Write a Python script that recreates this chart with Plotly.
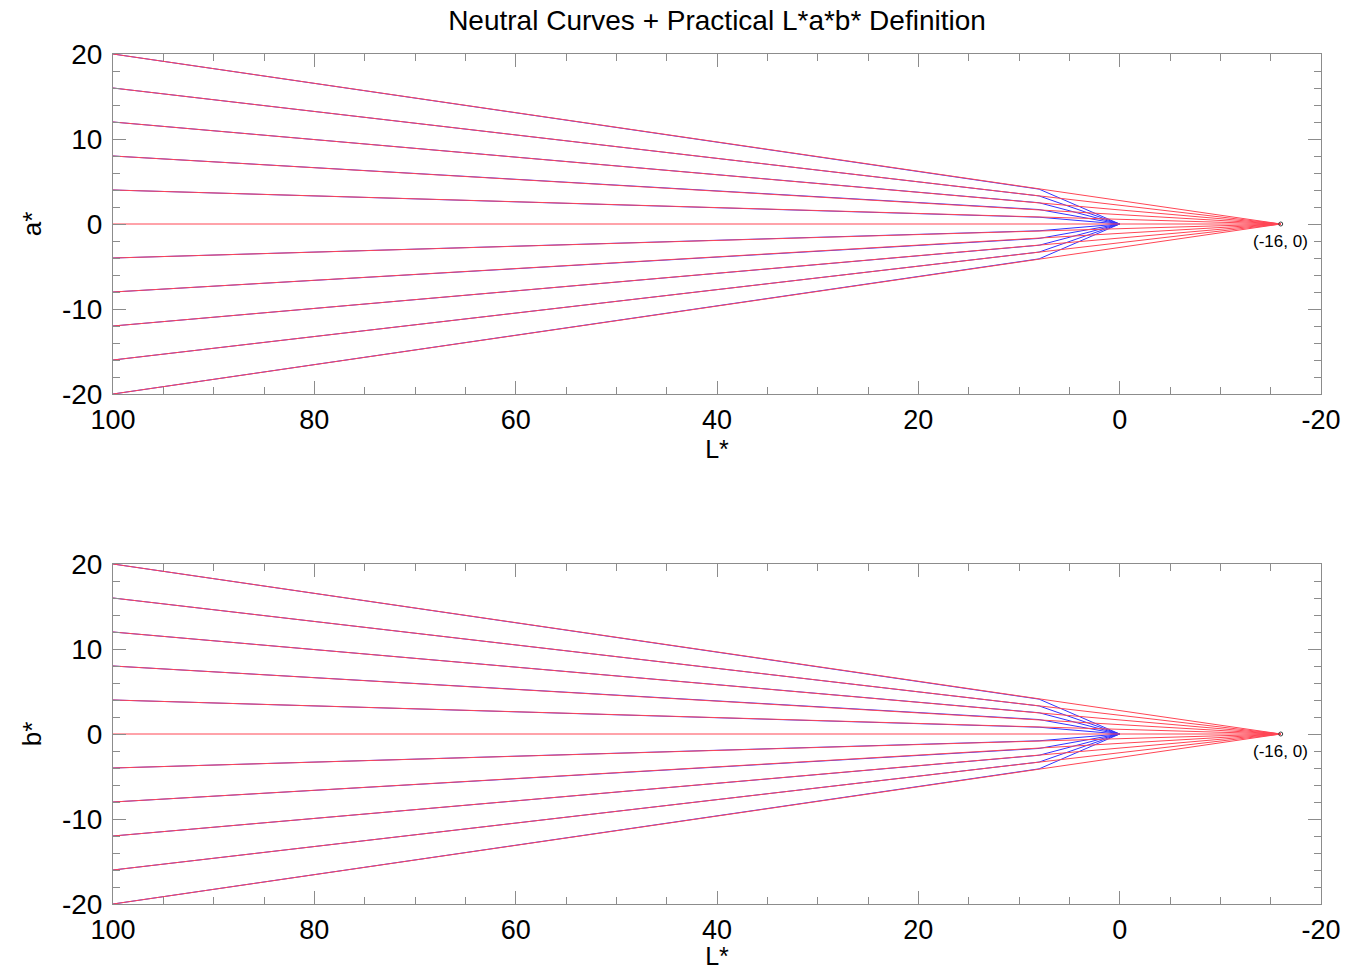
import plotly.graph_objects as go

# ---- data ----
start_L = 100
start_vals = [20, 16, 12, 8, 4, 0, -4, -8, -12, -16, -20]   # a* (and b*) at L*=100
knee_L = 8
knee_vals = [4.1, 3.3, 2.5, 1.7, 0.8, 0, -0.8, -1.7, -2.5, -3.3, -4.1]  # value where blue leaves red
neutral_L = 0          # blue (true CIE) curves converge at (0, 0)
practical_L = -16      # red (practical) lines converge at (-16, 0)
conv_val = 0
label_text = "(-16, 0)"

title = "Neutral Curves + Practical L*a*b* Definition"
x_title = "L*"
y_titles = ["a*", "b*"]
x_ticks = [100, 80, 60, 40, 20, 0, -20]
x_ticktext = ["100", "80", "60", "40", "20", "0", "-20"]
y_ticks = [20, 10, 0, -10, -20]
y_ticktext = ["20", "10", "0", "-10", "-20"]

FONT = "Liberation Sans, Arial, Helvetica, sans-serif"
AXC = "rgb(140,140,140)"

fig = go.Figure()

for p in range(2):
    xa = "x" if p == 0 else "x2"
    ya = "y" if p == 0 else "y2"
    bx, by = [], []
    rx, ry = [], []
    for v, k in zip(start_vals, knee_vals):
        if not (v == conv_val and k == conv_val):   # neutral line fully hidden under red one
            bx += [start_L, knee_L, neutral_L, None]
            by += [v, k, conv_val, None]
        rx += [start_L, practical_L, None]
        ry += [v, conv_val, None]
    fig.add_trace(go.Scatter(x=bx, y=by, mode="lines", xaxis=xa, yaxis=ya,
                             line=dict(color="rgb(50,50,255)", width=1), showlegend=False,
                             hoverinfo="skip"))
    fig.add_trace(go.Scatter(x=rx, y=ry, mode="lines", xaxis=xa, yaxis=ya,
                             line=dict(color="rgb(255,70,85)", width=1), showlegend=False,
                             hoverinfo="skip"))
    fig.add_trace(go.Scatter(x=[practical_L], y=[conv_val], mode="markers", xaxis=xa, yaxis=ya,
                             marker=dict(symbol="circle-open", size=4, color="rgb(60,60,60)",
                                         line=dict(width=1)),
                             showlegend=False, hoverinfo="skip"))
    fig.add_annotation(x=practical_L, y=conv_val, xref=xa, yref=ya, text=label_text,
                       showarrow=False, xanchor="center", yanchor="top", yshift=-6,
                       font=dict(family=FONT, size=17, color="black"))

xaxis_common = dict(range=[100, -20], tickvals=x_ticks, ticktext=x_ticktext, ticks="inside",
                    ticklen=13, tickcolor=AXC, tickwidth=1, showline=True, linecolor=AXC,
                    linewidth=1, mirror="ticks", showgrid=False, zeroline=False,
                    automargin=False, ticklabelstandoff=2,
                    minor=dict(dtick=5, ticks="inside", ticklen=7, tickcolor=AXC, showgrid=False),
                    tickfont=dict(family=FONT, size=27, color="black"),
                    title=dict(text=x_title, font=dict(family=FONT, size=25, color="black"),
                               standoff=1))
yaxis_common = dict(range=[-20, 20], tickvals=y_ticks, ticktext=y_ticktext, ticks="inside",
                    ticklen=13, tickcolor=AXC, tickwidth=1, showline=True, linecolor=AXC,
                    linewidth=1, mirror="ticks", showgrid=False, zeroline=False,
                    automargin=False,
                    minor=dict(dtick=2, ticks="inside", ticklen=7, tickcolor=AXC, showgrid=False),
                    tickfont=dict(family=FONT, size=28, color="black"),
                    ticklabelstandoff=4)

fig.update_layout(
    width=1356, height=970,
    margin=dict(l=113, r=35, t=54, b=66),
    paper_bgcolor="white", plot_bgcolor="white",
    title=dict(text=title, x=717 / 1356, xanchor="center", y=1 - 20 / 970, yanchor="middle",
               yref="container", automargin=False,
               font=dict(family=FONT, size=28, color="black")),
    xaxis=dict(**xaxis_common, domain=[0, 1], anchor="y"),
    yaxis=dict(**yaxis_common, domain=[510 / 850, 1], anchor="x",
               title=dict(text=y_titles[0], font=dict(family=FONT, size=26, color="black"),
                          standoff=12)),
    xaxis2=dict(**xaxis_common, domain=[0, 1], anchor="y2"),
    yaxis2=dict(**yaxis_common, domain=[0, 340 / 850], anchor="x2",
                title=dict(text=y_titles[1], font=dict(family=FONT, size=26, color="black"),
                           standoff=12)),
)

fig.write_html("out.html")
